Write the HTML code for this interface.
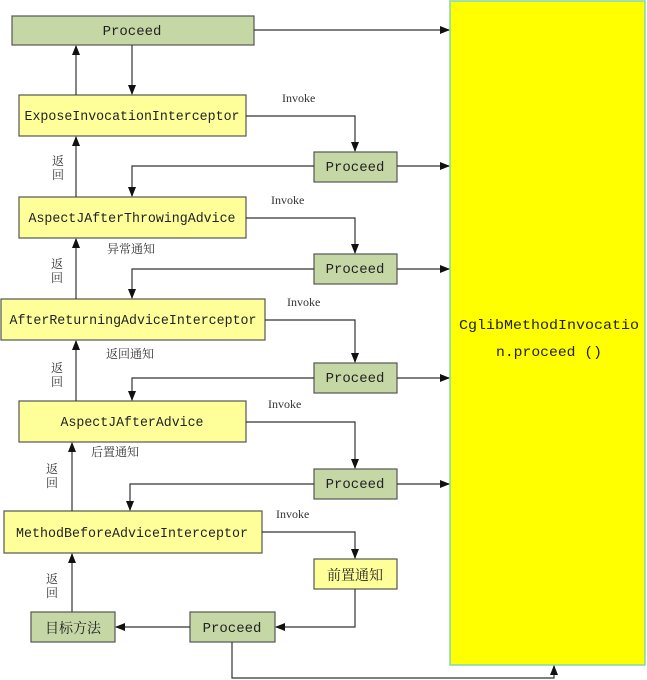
<!DOCTYPE html>
<html><head><meta charset="utf-8"><style>
html,body{margin:0;padding:0;background:#fff;}
svg{display:block;}
text{font-family:"Liberation Mono","Noto Serif CJK SC",monospace;fill:#222;}
.b{font-size:14px;}
.c{font-family:"Liberation Serif","Noto Serif CJK SC",serif;font-size:12px;fill:#333;}
.g{fill:#c6d7a6;stroke:#555;stroke-width:1.2;}
.y{fill:#ffff99;stroke:#555;stroke-width:1.2;}
.l{fill:none;stroke:#333;stroke-width:1.2;}
</style></head><body>
<svg width="647" height="680" viewBox="0 0 647 680" xmlns="http://www.w3.org/2000/svg">
<defs><marker id="a" markerWidth="10" markerHeight="8" refX="9" refY="4" orient="auto" markerUnits="userSpaceOnUse"><path d="M0,0 L10,4 L0,8 z" fill="#111"/></marker></defs>
<rect x="450" y="1" width="195" height="664" fill="#ffff00" stroke="#7fd8b0" stroke-width="1.5"/>
<text class="b" x="549" y="329" text-anchor="middle" font-size="17" textLength="180" lengthAdjust="spacingAndGlyphs">CglibMethodInvocatio</text>
<text class="b" x="549" y="356" text-anchor="middle" font-size="17" textLength="106" lengthAdjust="spacingAndGlyphs">n.proceed ()</text>

<rect class="g" x="12" y="16" width="242" height="29"/><text class="b" x="132" y="35" text-anchor="middle">Proceed</text>
<rect class="y" x="19" y="95" width="227" height="41"/><text class="b" x="132" y="120" text-anchor="middle" textLength="215" lengthAdjust="spacingAndGlyphs">ExposeInvocationInterceptor</text>
<rect class="g" x="314" y="152" width="83" height="30"/><text class="b" x="355" y="171" text-anchor="middle">Proceed</text>
<rect class="y" x="19" y="197" width="227" height="41"/><text class="b" x="132" y="222" text-anchor="middle" textLength="207" lengthAdjust="spacingAndGlyphs">AspectJAfterThrowingAdvice</text>
<rect class="g" x="314" y="254" width="83" height="30"/><text class="b" x="355" y="273" text-anchor="middle">Proceed</text>
<rect class="y" x="1" y="299" width="264" height="41"/><text class="b" x="133" y="324" text-anchor="middle" textLength="247" lengthAdjust="spacingAndGlyphs">AfterReturningAdviceInterceptor</text>
<rect class="g" x="314" y="363" width="83" height="30"/><text class="b" x="355" y="382" text-anchor="middle">Proceed</text>
<rect class="y" x="19" y="401" width="227" height="41"/><text class="b" x="132" y="426" text-anchor="middle" textLength="143" lengthAdjust="spacingAndGlyphs">AspectJAfterAdvice</text>
<rect class="g" x="314" y="469" width="83" height="30"/><text class="b" x="355" y="488" text-anchor="middle">Proceed</text>
<rect class="y" x="4" y="511" width="258" height="42"/><text class="b" x="132" y="537" text-anchor="middle" textLength="232" lengthAdjust="spacingAndGlyphs">MethodBeforeAdviceInterceptor</text>
<rect class="y" x="314" y="559" width="83" height="30"/><text class="b" x="355" y="580" text-anchor="middle" font-size="16">前置通知</text>
<rect class="g" x="31" y="612" width="84" height="30"/><text class="b" x="73" y="633" text-anchor="middle" font-size="16">目标方法</text>
<rect class="g" x="190" y="612" width="85" height="30"/><text class="b" x="232" y="632" text-anchor="middle">Proceed</text>

<path class="l" d="M254,30 H449" marker-end="url(#a)"/>
<path class="l" d="M76,95 V46" marker-end="url(#a)"/>
<path class="l" d="M132,45 V94" marker-end="url(#a)"/>
<path class="l" d="M246,116 H355 V151" marker-end="url(#a)"/>
<path class="l" d="M397,166 H449" marker-end="url(#a)"/>
<path class="l" d="M314,166 H132 V196" marker-end="url(#a)"/>
<path class="l" d="M76,197 V137" marker-end="url(#a)"/>
<path class="l" d="M246,218 H355 V253" marker-end="url(#a)"/>
<path class="l" d="M397,269 H449" marker-end="url(#a)"/>
<path class="l" d="M314,269 H132 V298" marker-end="url(#a)"/>
<path class="l" d="M76,299 V239" marker-end="url(#a)"/>
<path class="l" d="M265,320 H355 V362" marker-end="url(#a)"/>
<path class="l" d="M397,378 H449" marker-end="url(#a)"/>
<path class="l" d="M314,378 H132 V400" marker-end="url(#a)"/>
<path class="l" d="M76,401 V341" marker-end="url(#a)"/>
<path class="l" d="M246,422 H355 V468" marker-end="url(#a)"/>
<path class="l" d="M397,484 H449" marker-end="url(#a)"/>
<path class="l" d="M314,484 H130 V510" marker-end="url(#a)"/>
<path class="l" d="M72,511 V443" marker-end="url(#a)"/>
<path class="l" d="M262,532 H355 V558" marker-end="url(#a)"/>
<path class="l" d="M355,589 V627 H276" marker-end="url(#a)"/>
<path class="l" d="M190,627 H116" marker-end="url(#a)"/>
<path class="l" d="M72,612 V554" marker-end="url(#a)"/>
<path class="l" d="M232,642 V678 H554 V666" marker-end="url(#a)"/>

<text class="c" x="282" y="102">Invoke</text>
<text class="c" x="271" y="204">Invoke</text>
<text class="c" x="287" y="306">Invoke</text>
<text class="c" x="268" y="408">Invoke</text>
<text class="c" x="276" y="518">Invoke</text>
<text class="c" x="107" y="253">异常通知</text>
<text class="c" x="106" y="358">返回通知</text>
<text class="c" x="91" y="456">后置通知</text>
<text class="c" x="52" y="165">返</text><text class="c" x="52" y="179">回</text>
<text class="c" x="51" y="268">返</text><text class="c" x="51" y="282">回</text>
<text class="c" x="51" y="372">返</text><text class="c" x="51" y="386">回</text>
<text class="c" x="46" y="473">返</text><text class="c" x="46" y="487">回</text>
<text class="c" x="46" y="583">返</text><text class="c" x="46" y="597">回</text>
</svg>
</body></html>
